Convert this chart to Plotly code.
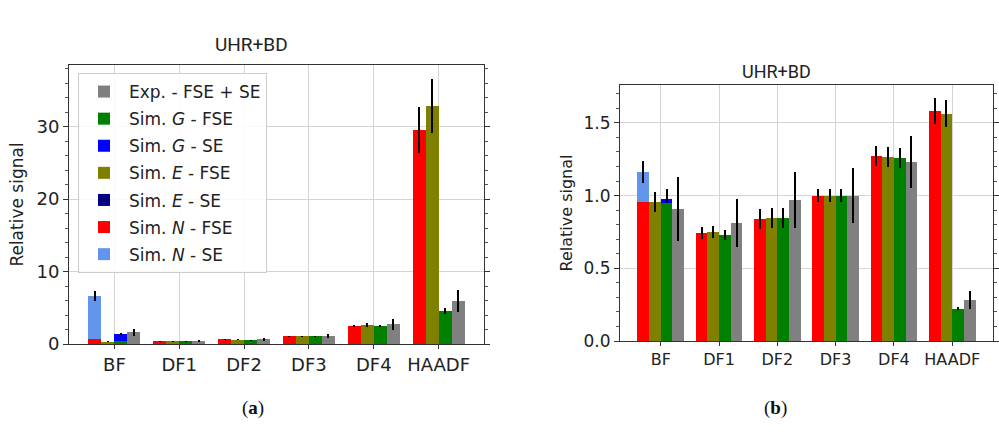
import plotly.graph_objects as go

categories = ["BF", "DF1", "DF2", "DF3", "DF4", "HAADF"]

# ---- panel (a) values ----
a_N_SE = [6.6, None, None, None, None, None]
a_N_SE_err = [0.7, 0, 0, 0, 0, 0]
a_N_FSE = [0.65, 0.40, 0.64, 1.05, 2.48, 29.5]
a_N_FSE_err = [0, 0.06, 0.08, 0.08, 0.2, 3.2]
a_E_SE = [0.25, None, None, None, None, None]
a_E_FSE = [0.30, 0.38, 0.57, 1.05, 2.62, 32.8]
a_E_FSE_err = [0.08, 0.05, 0.06, 0.1, 0.25, 3.7]
a_G_SE = [1.38, None, None, None, None, None]
a_G_SE_err = [0.12, 0, 0, 0, 0, 0]
a_G_FSE = [0.35, 0.37, 0.52, 1.05, 2.48, 4.55]
a_G_FSE_err = [0, 0.05, 0.06, 0.1, 0.2, 0.35]
a_Exp = [1.6, 0.42, 0.64, 1.06, 2.7, 5.9]
a_Exp_err = [0.45, 0.1, 0.2, 0.3, 0.7, 1.5]

# ---- panel (b) values ----
b_N_SE = [1.161, None, None, None, None, None]
b_N_SE_err = [0.076, 0, 0, 0, 0, 0]
b_N_FSE = [0.959, 0.743, 0.84, 1.0, 1.271, 1.58]
b_N_FSE_err = [0, 0.04, 0.067, 0.045, 0.068, 0.09]
b_E_SE = [0.93, None, None, None, None, None]
b_E_FSE = [0.955, 0.748, 0.845, 1.0, 1.266, 1.562]
b_E_FSE_err = [0.066, 0.04, 0.067, 0.045, 0.068, 0.092]
b_G_SE = [0.973, None, None, None, None, None]
b_G_SE_err = [0.07, 0, 0, 0, 0, 0]
b_G_FSE = [0.946, 0.73, 0.845, 1.0, 1.255, 0.222]
b_G_FSE_err = [0, 0.035, 0.07, 0.045, 0.069, 0.01]
b_Exp = [0.909, 0.81, 0.97, 1.0, 1.23, 0.284]
b_Exp_err = [0.22, 0.165, 0.19, 0.19, 0.18, 0.063]

names = ["Sim. <i>N</i> - SE", "Sim. <i>N</i> - FSE", "Sim. <i>E</i> - SE",
         "Sim. <i>E</i> - FSE", "Sim. <i>G</i> - SE", "Sim. <i>G</i> - FSE",
         "Exp. - FSE + SE"]
colors = ["#6495ed", "#ff0000", "#000080", "#808000", "#0000ff", "#008000", "#808080"]
offsets = [-0.4, -0.4, -0.2, -0.2, 0.0, 0.0, 0.2]
BW = 0.2

panel_a = [(a_N_SE, a_N_SE_err), (a_N_FSE, a_N_FSE_err), (a_E_SE, None),
           (a_E_FSE, a_E_FSE_err), (a_G_SE, a_G_SE_err), (a_G_FSE, a_G_FSE_err),
           (a_Exp, a_Exp_err)]
panel_b = [(b_N_SE, b_N_SE_err), (b_N_FSE, b_N_FSE_err), (b_E_SE, None),
           (b_E_FSE, b_E_FSE_err), (b_G_SE, b_G_SE_err), (b_G_FSE, b_G_FSE_err),
           (b_Exp, b_Exp_err)]

FONT = "DejaVu Sans"
fig = go.Figure()


def add_panel(data, xa, ya, show):
    n = len(data)
    for i, (vals, err) in enumerate(data):
        kw = {}
        if err is not None:
            kw["error_y"] = dict(type="data", array=err, visible=True,
                                 color="black", thickness=2, width=0)
        fig.add_trace(go.Bar(
            x=categories, y=vals, name=names[i], marker_color=colors[i],
            marker_line_width=0, offset=offsets[i], width=BW,
            legendgroup="g%d" % (n - i), legendrank=(n - i) * 10,
            xaxis=xa, yaxis=ya, showlegend=show, hoverinfo="skip", **kw))


add_panel(panel_a, "x", "y", True)
add_panel(panel_b, "x2", "y2", False)

W, H = 999, 432


def ax_common(fs):
    return dict(showline=True, linecolor="#333333", linewidth=1,
                gridcolor="#d4d4d4", gridwidth=1, zeroline=False, automargin=False,
                tickfont=dict(family=FONT, size=fs, color="#222"))


fig.update_layout(
    template="none",
    width=W, height=H, margin=dict(l=0, r=0, t=0, b=0, pad=0),
    paper_bgcolor="white", plot_bgcolor="white",
    barmode="overlay", bargap=0,
    font=dict(family=FONT, color="#222"),
    xaxis=dict(domain=[69 / W, 484 / W], anchor="y", range=[-0.7, 5.7], mirror=True,
               ticks="outside", ticklen=4, tickcolor="#333", **ax_common(18)),
    yaxis=dict(domain=[(H - 344) / H, (H - 65) / H], anchor="x", range=[0, 38.5],
               tickvals=[0, 10, 20, 30], ticks="outside", ticklen=5, tickcolor="#333",
               mirror="ticks",
               minor=dict(dtick=2, tick0=0, ticks="outside", ticklen=3, tickcolor="#555",
                          showgrid=False),
               title=dict(text="Relative signal", font=dict(family=FONT, size=17), standoff=8),
               **ax_common(18)),
    xaxis2=dict(domain=[620 / W, 993 / W], anchor="y2", range=[-0.7, 5.7], mirror=True,
                ticks="outside", ticklen=4, tickcolor="#333", **ax_common(16)),
    yaxis2=dict(domain=[(H - 341) / H, (H - 85) / H], anchor="x2", range=[0, 1.76],
                tickvals=[0, 0.5, 1.0, 1.5], ticktext=["0.0", "0.5", "1.0", "1.5"],
                ticks="outside", ticklen=5, tickcolor="#333", mirror="ticks",
                minor=dict(dtick=0.1, tick0=0, ticks="outside", ticklen=3, tickcolor="#555",
                           showgrid=False),
                title=dict(text="Relative signal", font=dict(family=FONT, size=16), standoff=6),
                **ax_common(17)),
    legend=dict(x=78 / W, y=(H - 73) / H, xanchor="left", yanchor="top",
                traceorder="grouped", tracegroupgap=2,
                bgcolor="rgba(255,255,255,0.85)",
                bordercolor="#cccccc", borderwidth=1, itemwidth=40,
                font=dict(family=FONT, size=17, color="#222")),
    annotations=[
        dict(text="UHR+BD", x=251 / W, y=(H - 45) / H, xref="paper", yref="paper",
             xanchor="center", yanchor="middle", showarrow=False,
             font=dict(family="Liberation Sans Narrow, Roboto, sans-serif", size=19, color="#222")),
        dict(text="UHR+BD", x=776 / W, y=(H - 72) / H, xref="paper", yref="paper",
             xanchor="center", yanchor="middle", showarrow=False,
             font=dict(family="Liberation Sans Narrow, Roboto, sans-serif", size=18, color="#222")),
        dict(text="(<b>a</b>)", x=253 / W, y=(H - 408) / H, xref="paper", yref="paper",
             xanchor="center", yanchor="middle", showarrow=False,
             font=dict(family="Liberation Serif, serif", size=19, color="#111")),
        dict(text="(<b>b</b>)", x=775 / W, y=(H - 408) / H, xref="paper", yref="paper",
             xanchor="center", yanchor="middle", showarrow=False,
             font=dict(family="Liberation Serif, serif", size=19, color="#111")),
    ],
)

fig.write_html("out.html")
